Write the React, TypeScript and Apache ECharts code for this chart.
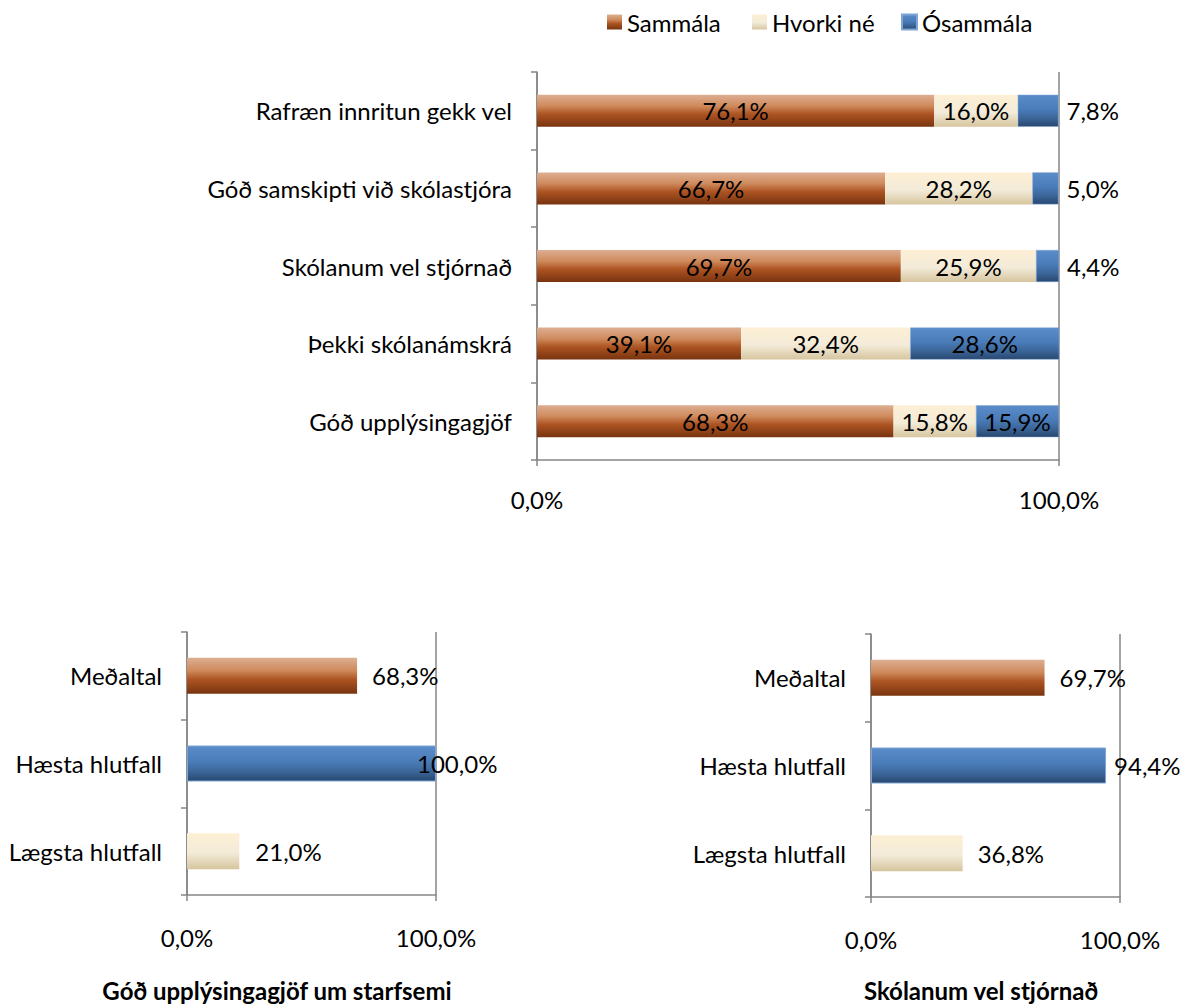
import React, { useEffect, useRef } from "react";
import * as echarts from "echarts";

const mainCategories = [
  "Rafræn innritun gekk vel",
  "Góð samskipti við skólastjóra",
  "Skólanum vel stjórnað",
  "Þekki skólanámskrá",
  "Góð upplýsingagjöf",
];
const seriesNames = ["Sammála", "Hvorki né", "Ósammála"];
const sammala = [76.1, 66.7, 69.7, 39.1, 68.3];
const hvorki = [16.0, 28.2, 25.9, 32.4, 15.8];
const osammala = [7.8, 5.0, 4.4, 28.6, 15.9];

const compareCategories = ["Meðaltal", "Hæsta hlutfall", "Lægsta hlutfall"];
const leftValues = [68.3, 100.0, 21.0];
const rightValues = [69.7, 94.4, 36.8];
const leftTitle = "Góð upplýsingagjöf um starfsemi";
const rightTitle = "Skólanum vel stjórnað";
const xTickValues = [0, 100];

const FONT = "Lato, Carlito, Calibri, sans-serif";
const FS = 24;
const AXIS = "#868686";

const fmt = (v: number) => v.toFixed(1).replace(".", ",") + "%";

const grad = (stops: [number, string][]) =>
  new echarts.graphic.LinearGradient(
    0,
    0,
    0,
    1,
    stops.map(([offset, color]) => ({ offset, color }))
  );

const brown = () =>
  grad([
    [0, "#ddae92"],
    [0.35, "#cf8a5c"],
    [0.6, "#ad5423"],
    [1, "#78340f"],
  ]);
const cream = () =>
  grad([
    [0, "#fdefd4"],
    [0.55, "#f3ebd9"],
    [1, "#d6c59e"],
  ]);
const blue = () =>
  grad([
    [0, "#5a8cc9"],
    [0.45, "#4a7cb9"],
    [0.75, "#3a6496"],
    [1, "#284770"],
  ]);

export default function App() {
  const ref = useRef<HTMLDivElement>(null);

  useEffect(() => {
    document.body.style.margin = "0";
    if (!ref.current) return;
    const chart = echarts.init(ref.current, undefined, { renderer: "svg" });

    const yAxisBase = (gridIndex: number, data: string[]) => ({
      type: "category" as const,
      gridIndex,
      data,
      inverse: true,
      axisLine: { show: true, lineStyle: { color: AXIS, width: 1.5 } },
      axisTick: { show: true, length: 6, lineStyle: { color: AXIS, width: 1.5 } },
      axisLabel: { margin: 25, fontSize: FS, color: "#000", fontFamily: FONT },
    });
    const xAxisBase = (gridIndex: number, margin: number) => ({
      type: "value" as const,
      gridIndex,
      min: 0,
      max: 100,
      interval: 100,
      axisLine: { show: true, lineStyle: { color: AXIS, width: 1.5 } },
      axisTick: { show: true, length: 6, lineStyle: { color: AXIS, width: 1.5 } },
      splitLine: { show: true, lineStyle: { color: AXIS, width: 1.5 } },
      axisLabel: {
        margin,
        fontSize: FS,
        color: "#000",
        fontFamily: FONT,
        formatter: (v: number) => (xTickValues.includes(v) ? fmt(v) : ""),
      },
    });

    const labelInside = {
      show: true,
      position: "inside" as const,
      fontSize: FS,
      color: "#000",
      fontFamily: FONT,
      formatter: (p: any) => fmt(p.value),
    };

    const compareColors = [brown, blue, cream];
    const compareData = (values: number[], distances: number[]) =>
      values.map((v, i) => ({
        value: v,
        itemStyle: {
          color: compareColors[i](),
          borderColor: i === 1 ? "#7fa5d6" : undefined,
          borderWidth: i === 1 ? 1 : 0,
        },
        label: { distance: distances[i] },
      }));

    const compareLabel = {
      show: true,
      position: "right" as const,
      fontSize: FS,
      color: "#000",
      fontFamily: FONT,
      formatter: (p: any) => fmt(p.value),
    };

    chart.setOption({
      animation: false,
      legend: seriesNames.map((name, i) => ({
        data: [name],
        left: [607, 752, 901][i],
        top: 10,
        padding: 0,
        icon: "rect",
        itemWidth: 15,
        itemHeight: 15,
        textStyle: { fontSize: FS, color: "#000", fontFamily: FONT },
      })),
      grid: [
        { left: 537, top: 72, width: 522, height: 388 },
        { left: 187, top: 632, width: 249, height: 263 },
        { left: 871, top: 634, width: 249, height: 263 },
      ],
      xAxis: [xAxisBase(0, 27), xAxisBase(1, 30), xAxisBase(2, 30)],
      yAxis: [
        yAxisBase(0, mainCategories),
        yAxisBase(1, compareCategories),
        yAxisBase(2, compareCategories),
      ],
      series: [
        {
          name: seriesNames[0],
          type: "bar",
          stack: "main",
          xAxisIndex: 0,
          yAxisIndex: 0,
          barWidth: 32,
          itemStyle: { color: brown() },
          label: labelInside,
          data: sammala,
        },
        {
          name: seriesNames[1],
          type: "bar",
          stack: "main",
          xAxisIndex: 0,
          yAxisIndex: 0,
          barWidth: 32,
          itemStyle: { color: cream() },
          label: labelInside,
          data: hvorki,
        },
        {
          name: seriesNames[2],
          type: "bar",
          stack: "main",
          xAxisIndex: 0,
          yAxisIndex: 0,
          barWidth: 32,
          itemStyle: { color: blue(), borderColor: "#7fa5d6", borderWidth: 0.5 },
          label: labelInside,
          data: osammala.map((v) =>
            v < 10
              ? { value: v, label: { position: "right", distance: 8 } }
              : v
          ),
        },
        {
          type: "bar",
          xAxisIndex: 1,
          yAxisIndex: 1,
          barWidth: 36,
          label: compareLabel,
          data: compareData(leftValues, [15, -19, 16]),
        },
        {
          type: "bar",
          xAxisIndex: 2,
          yAxisIndex: 2,
          barWidth: 36,
          label: compareLabel,
          data: compareData(rightValues, [15, 8, 15]),
        },
      ],
      graphic: [
        {
          type: "text",
          x: 277,
          y: 990,
          style: {
            text: leftTitle,
            align: "center",
            verticalAlign: "middle",
            fontSize: 24,
            fontWeight: "bold",
            fontFamily: FONT,
            fill: "#000",
          },
        },
        {
          type: "text",
          x: 981,
          y: 990,
          style: {
            text: rightTitle,
            align: "center",
            verticalAlign: "middle",
            fontSize: 24,
            fontWeight: "bold",
            fontFamily: FONT,
            fill: "#000",
          },
        },
      ],
    });

    return () => chart.dispose();
  }, []);

  return <div ref={ref} style={{ width: 1189, height: 1004 }} />;
}
